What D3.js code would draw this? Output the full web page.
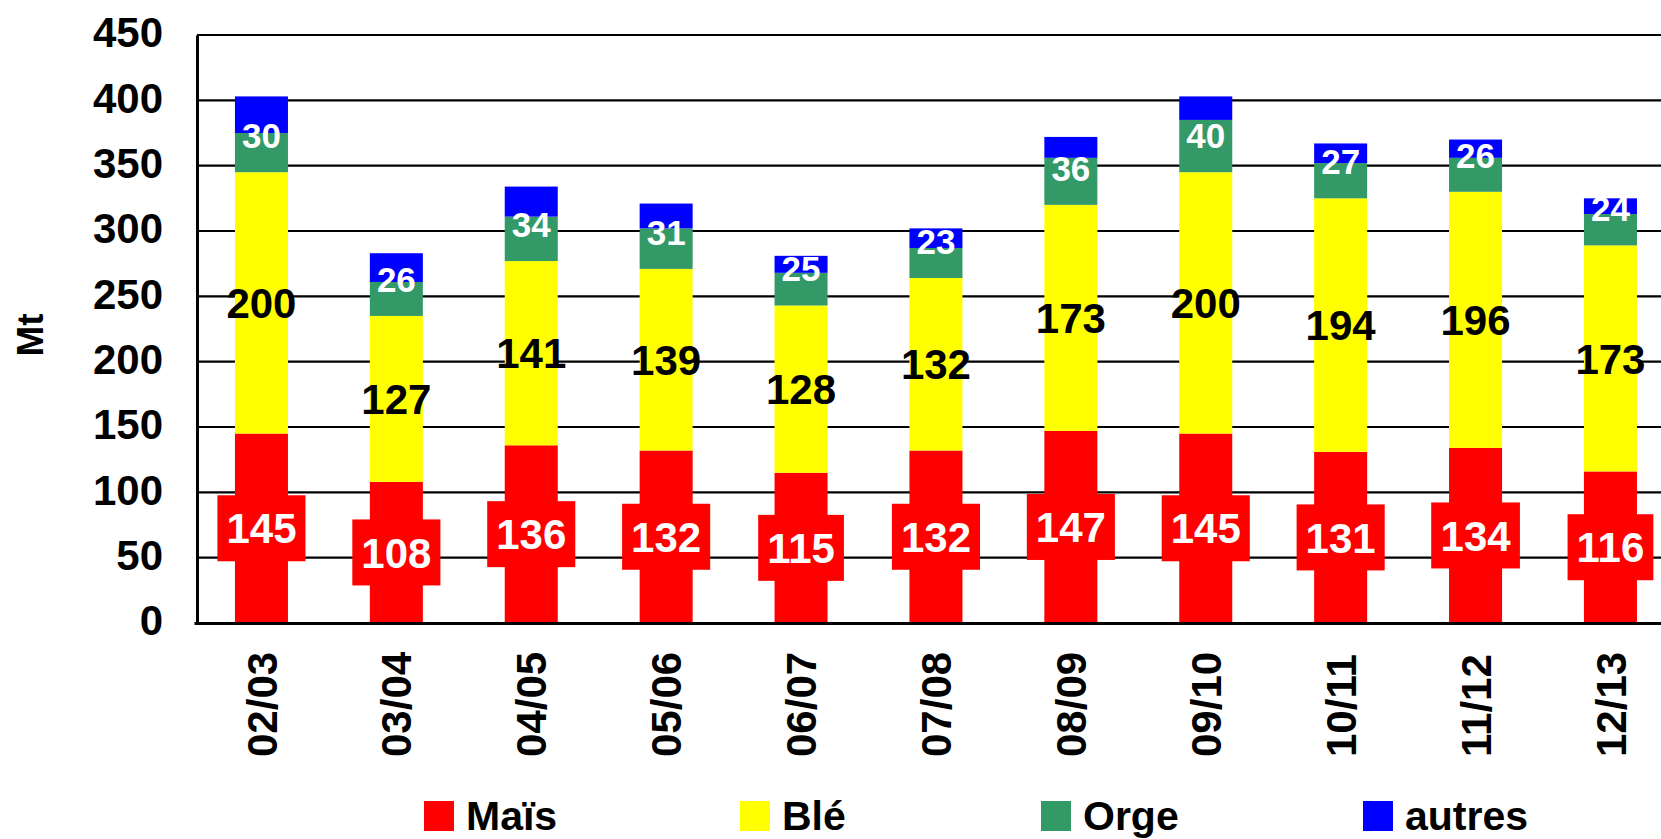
<!DOCTYPE html>
<html>
<head>
<meta charset="utf-8">
<script src="https://cdn.jsdelivr.net/npm/d3@7"></script>
<style>
  html, body { margin: 0; padding: 0; background: #ffffff; }
  svg { display: block; }
  text { font-family: "Liberation Sans", Arial, sans-serif; font-weight: bold; }
</style>
</head>
<body>
<script>
// ---- Data ----
const categories = ["02/03", "03/04", "04/05", "05/06", "06/07", "07/08", "08/09", "09/10", "10/11", "11/12", "12/13"];
const mais   = [145, 108, 136, 132, 115, 132, 147, 145, 131, 134, 116];
const ble    = [200, 127, 141, 139, 128, 132, 173, 200, 194, 196, 173];
const orge   = [30, 26, 34, 31, 25, 23, 36, 40, 27, 26, 24];
const autres = [28, 22, 23, 19, 13, 15, 16, 18, 15, 14, 12];
const seriesKeys  = ["mais", "ble", "orge", "autres"];
const seriesNames = ["Maïs", "Blé", "Orge", "autres"];
const yTicks = [0, 50, 100, 150, 200, 250, 300, 350, 400, 450];
const yTitle = "Mt";

// ---- Styles / layout ----
const colors = { mais: "#ff0000", ble: "#ffff00", orge: "#339966", autres: "#0000ff" };
const W = 1661, H = 839;
const plot = { left: 197, top: 35, bottom: 623, bandStart: 194, step: 134.9 };
const legendX = [424, 740, 1041, 1363];

const table = categories.map((c, i) => ({
  cat: c, mais: mais[i], ble: ble[i], orge: orge[i], autres: autres[i]
}));
const stacked = d3.stack().keys(seriesKeys)(table);

const svg = d3.select("body").append("svg")
  .attr("width", W).attr("height", H)
  .attr("viewBox", `0 0 ${W} ${H}`);
svg.append("rect").attr("width", W).attr("height", H).attr("fill", "#fff");

const x = d3.scaleBand()
  .domain(categories)
  .range([plot.bandStart, plot.bandStart + plot.step * categories.length])
  .paddingInner(0.607)
  .paddingOuter(0.3035);

const y = d3.scaleLinear().domain([0, 450]).range([plot.bottom, plot.top]);

// gridlines
svg.append("g").selectAll("line").data(yTicks).join("line")
  .attr("x1", plot.left).attr("x2", W)
  .attr("y1", d => y(d)).attr("y2", d => y(d))
  .attr("stroke", "#000").attr("stroke-width", 2.2);

// bars
svg.append("g").selectAll("g").data(stacked).join("g")
  .attr("fill", d => colors[d.key])
  .selectAll("rect").data(d => d).join("rect")
  .attr("x", d => x(d.data.cat))
  .attr("width", x.bandwidth())
  .attr("y", d => y(d[1]))
  .attr("height", d => y(d[0]) - y(d[1]));

// labels
const lab = svg.append("g");
const sMais = stacked[0], sBle = stacked[1], sOrge = stacked[2];

// Maïs: white text on red box
const mg = lab.selectAll("g.mais").data(sMais).join("g").attr("class", "mais")
  .attr("transform", d => `translate(${x(d.data.cat) + x.bandwidth() / 2},${y((d[0] + d[1]) / 2)})`);
mg.append("rect").attr("fill", colors.mais);
mg.append("text")
  .attr("text-anchor", "middle").attr("dy", "0.36em")
  .attr("font-size", 42).attr("fill", "#fff")
  .text(d => d[1] - d[0]);
mg.each(function () {
  const g = d3.select(this);
  const bb = g.select("text").node().getBBox();
  g.select("rect")
    .attr("x", -bb.width / 2 - 9).attr("width", bb.width + 18)
    .attr("y", -33).attr("height", 66);
});

// Blé: black text centered
lab.selectAll("text.ble").data(sBle).join("text").attr("class", "ble")
  .attr("x", d => x(d.data.cat) + x.bandwidth() / 2)
  .attr("y", d => y((d[0] + d[1]) / 2))
  .attr("dy", "0.36em").attr("text-anchor", "middle")
  .attr("font-size", 42).attr("fill", "#000")
  .text(d => d[1] - d[0]);

// Orge: white text, inside base
lab.selectAll("text.orge").data(sOrge).join("text").attr("class", "orge")
  .attr("x", d => x(d.data.cat) + x.bandwidth() / 2)
  .attr("y", d => y(d[0]) - 36.6)
  .attr("dy", "0.36em").attr("text-anchor", "middle")
  .attr("font-size", 35).attr("fill", "#fff")
  .text(d => d[1] - d[0]);

// y axis
const yAxis = svg.append("g").attr("transform", `translate(${plot.left},0)`)
  .call(d3.axisLeft(y).tickValues(yTicks).tickSize(0).tickSizeOuter(0).tickPadding(34));
yAxis.select(".domain").attr("stroke", "#000").attr("stroke-width", 3);
yAxis.selectAll("text")
  .attr("font-size", 42).attr("fill", "#000")
  .attr("font-family", "Liberation Sans, Arial, sans-serif")
  .attr("font-weight", "bold")
  .attr("dy", "0.28em");

// x axis
const xAxis = svg.append("g").attr("transform", `translate(0,${plot.bottom})`)
  .call(d3.axisBottom(x).tickSize(0).tickSizeOuter(0));
xAxis.select(".domain").attr("stroke", "#000").attr("stroke-width", 3);
xAxis.selectAll("text")
  .attr("font-size", 42).attr("fill", "#000")
  .attr("font-family", "Liberation Sans, Arial, sans-serif")
  .attr("font-weight", "bold")
  .attr("text-anchor", "start")
  .attr("transform", "rotate(-90)")
  .attr("x", -134).attr("y", 0).attr("dy", "0.36em");

// y title
svg.append("text")
  .attr("transform", `translate(30,335) rotate(-90)`)
  .attr("text-anchor", "middle").attr("dy", "0.36em")
  .attr("font-size", 37).attr("fill", "#000")
  .text(yTitle);

// legend
const lg = svg.append("g").selectAll("g").data(seriesKeys).join("g")
  .attr("transform", (d, i) => `translate(${legendX[i]},801)`);
lg.append("rect").attr("width", 30).attr("height", 30).attr("fill", d => colors[d]);
lg.append("text").attr("x", 42).attr("y", 28.5)
  .attr("font-size", 41).attr("fill", "#000")
  .text((d, i) => seriesNames[i]);
</script>
</body>
</html>
